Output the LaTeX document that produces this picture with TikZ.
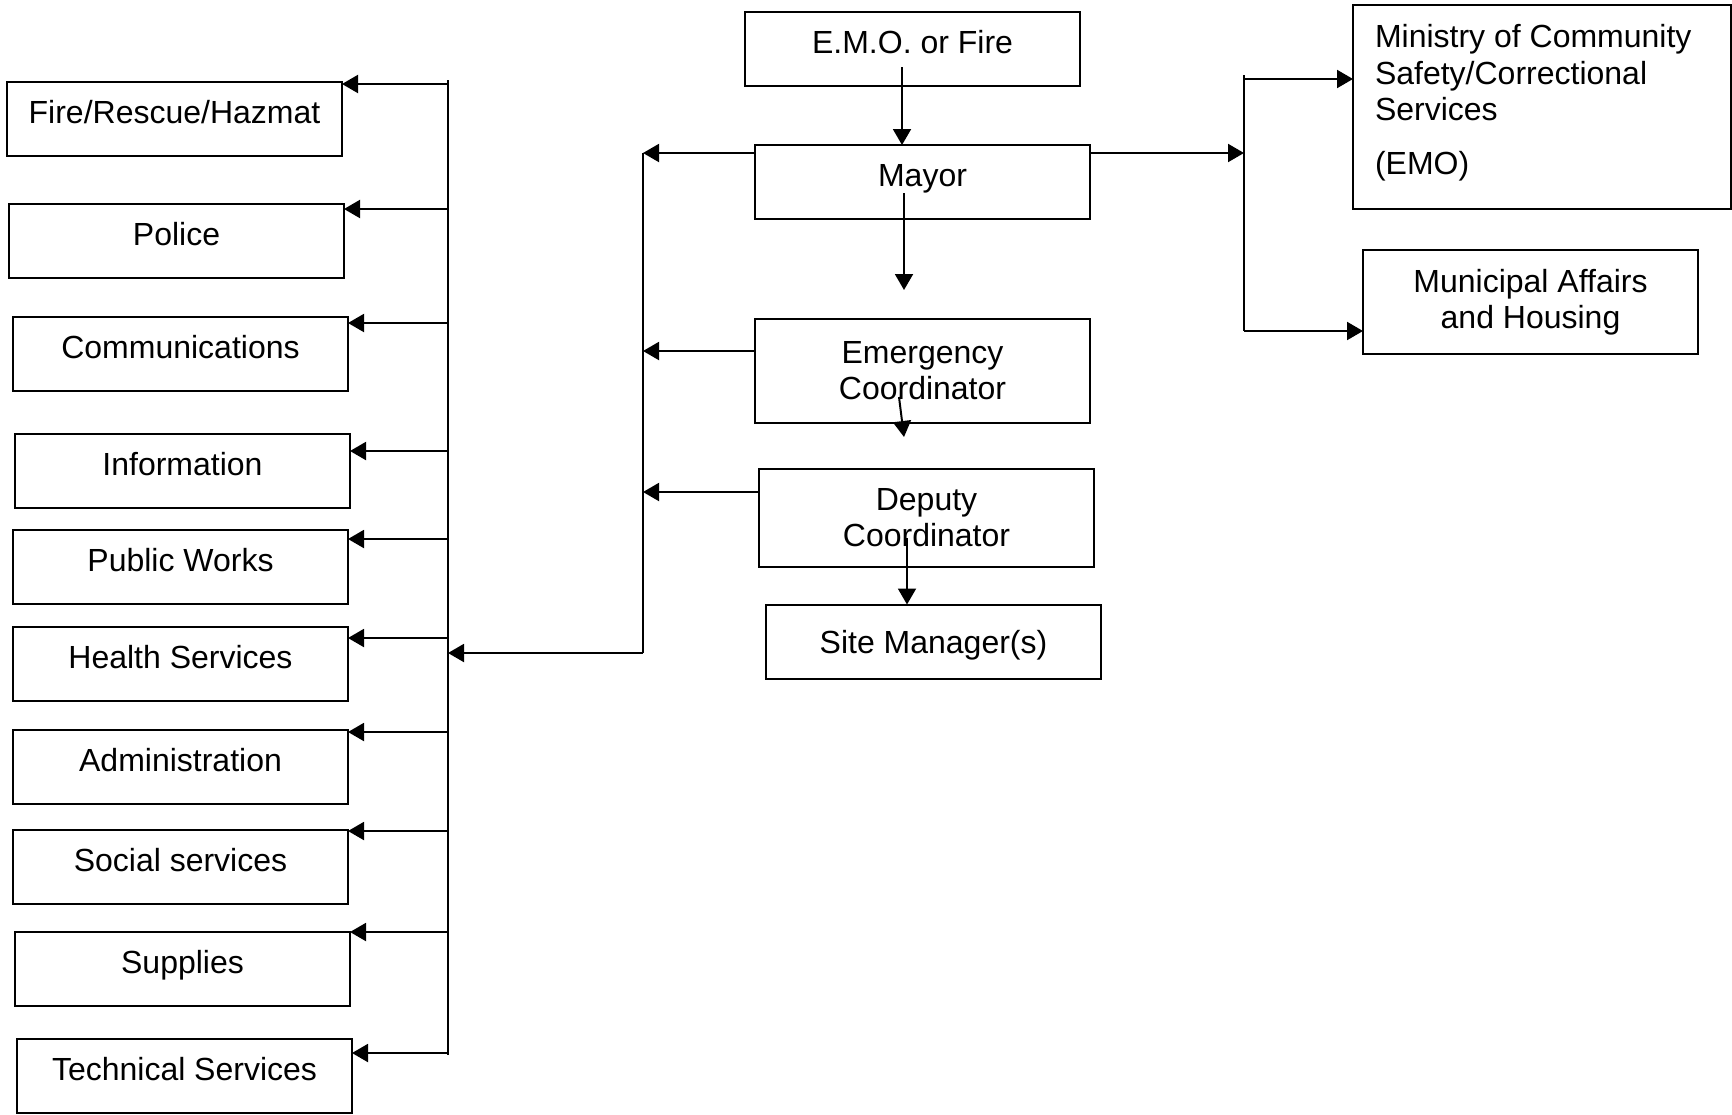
\documentclass[tikz,border=0pt]{standalone}
\usepackage{fontspec}
\setmainfont{Liberation Sans}
\usetikzlibrary{arrows.meta}

\begin{document}
\begin{tikzpicture}[x=0.5pt,y=-0.5pt,line width=1pt,
  font=\fontsize{16}{18}\selectfont,
  box/.style={draw,minimum width=167.5pt,minimum height=37pt,outer sep=0pt,inner sep=2pt,align=center},
  onebox/.style={box,text height=11.5pt,text depth=7pt},
  arr/.style={-{Triangle[length=8pt,width=9pt]}}]
\useasboundingbox (0,0) rectangle (1732,1114);

% left column
\node[onebox] (fire) at (174.5,118.5) {Fire/Rescue/Hazmat};
\node[onebox] (police) at (176.5,240.5) {Police};
\node[onebox] (comm) at (180.5,354) {Communications};
\node[onebox] (info) at (182.5,470.5) {Information};
\node[onebox] (works) at (180.5,566.5) {Public Works};
\node[onebox] (health) at (180.5,664) {Health Services};
\node[onebox] (admin) at (180.5,766.5) {Administration};
\node[onebox] (social) at (180.5,867) {Social services};
\node[onebox] (supplies) at (182.5,968.5) {Supplies};
\node[onebox] (tech) at (184.5,1076) {Technical Services};

% middle column
\node[onebox] (emo) at (912.5,49) {E.M.O. or Fire};
\node[onebox] (mayor) at (922.5,182) {Mayor};
\node[box,minimum height=52pt] (emerg) at (922.5,371) {Emergency\\Coordinator};
\node[box,minimum height=49pt] (deputy) at (926.5,518) {Deputy\\Coordinator};
\node[box,text height=11.5pt,text depth=0pt] (site) at (933.5,641.5) {Site Manager(s)};

% right column
\node[box,minimum width=189pt,minimum height=102pt] (ministry) at (1542,107) {};
\node[anchor=north west,inner sep=0pt,align=left,font=\fontsize{16}{18.3}\selectfont]
  (ministrytext) at ([xshift=10.5pt,yshift=-9.3pt]ministry.north west)
  {Ministry of Community\\Safety/Correctional\\Services\\[8.5pt](EMO)};
\node[box,minimum height=52pt] (municipal) at (1530.5,302) {Municipal Affairs\\and Housing};

% left bus
\coordinate (ltop) at (448,80);
\coordinate (lbot) at (448,1055);
\draw (ltop) -- (lbot);
\foreach \nm/\y in {fire/84,police/209,comm/323,info/451,works/539,health/638,admin/732,social/831,supplies/932,tech/1053}
  {\coordinate (l\nm) at (448,\y); \draw[arr] (l\nm) -- (l\nm -| \nm.east);}

% middle bus
\coordinate (mtop) at (643,153);
\coordinate (mbot) at (643,653);
\coordinate (memerg) at (643,351);
\coordinate (mdeputy) at (643,492);
\draw (mtop) -- (mbot);
\draw[arr] (mtop -| mayor.west) -- (mtop);
\draw[arr] (memerg -| emerg.west) -- (memerg);
\draw[arr] (mdeputy -| deputy.west) -- (mdeputy);
\draw[arr] (mbot) -- (mbot -| ltop);

% right bus
\coordinate (rtop) at (1244,75);
\coordinate (rmin) at (1244,79);
\coordinate (rmid) at (1244,153);
\coordinate (rbot) at (1244,331);
\draw (rtop) -- (rbot);
\draw[arr] (mtop -| mayor.east) -- (rmid);
\draw[arr] (rmin) -- (rmin -| ministry.west);
\draw[arr] (rbot) -- (rbot -| municipal.west);

% down the chain
\coordinate (emo1) at (902,67);
\draw[arr] (emo1) -- (emo1 |- mayor.north);
\coordinate (may1) at (904,193);
\coordinate (may2) at (904,290);
\draw[arr] (may1) -- (may2);
\coordinate (em1) at (899,397);
\coordinate (em2) at (904,437);
\draw[arr] (em1) -- (em2);
\coordinate (dep1) at (907,538);
\draw[arr] (dep1) -- (dep1 |- site.north);
\end{tikzpicture}
\end{document}
